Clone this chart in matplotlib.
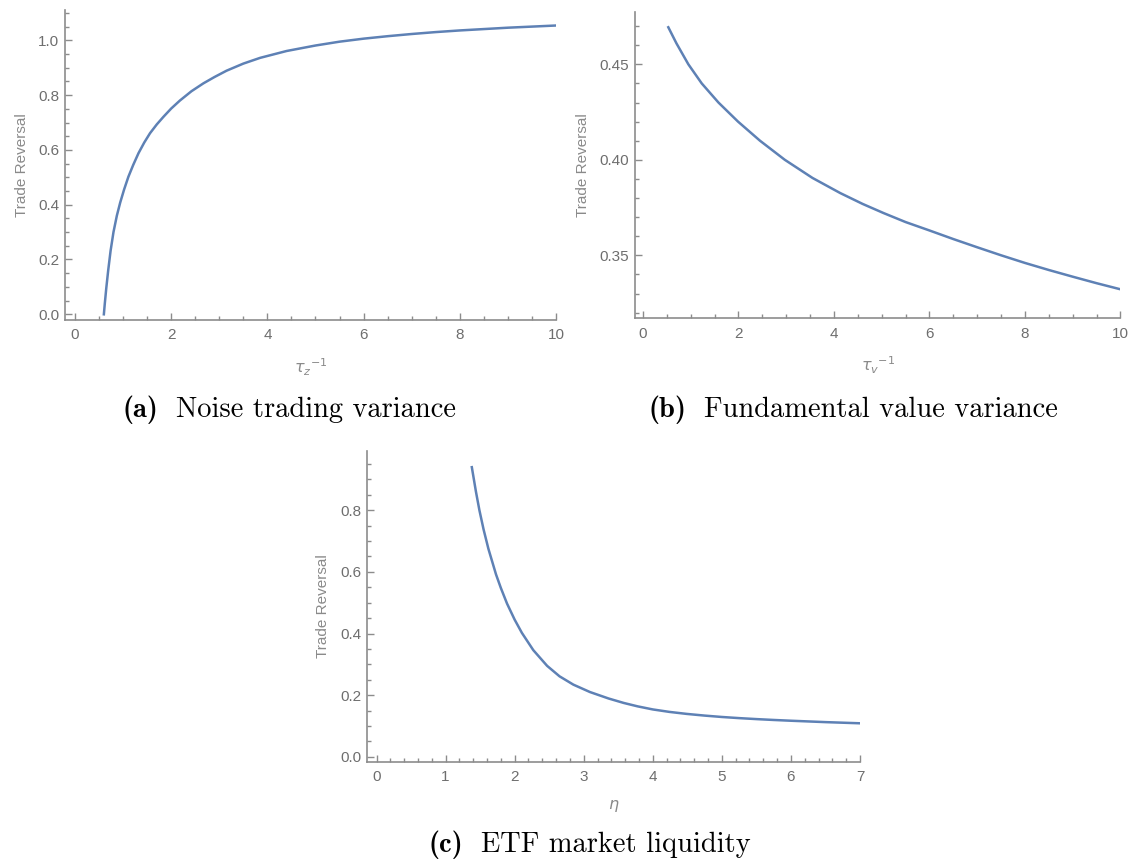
import matplotlib
matplotlib.use("Agg")
import matplotlib.pyplot as plt
from matplotlib.ticker import MultipleLocator, FormatStrFormatter

# (a) noise trading variance
noise_x = [0.60, 0.62, 0.65, 0.69, 0.74, 0.80, 0.87, 0.94, 1.02, 1.11, 1.21, 1.32,
           1.44, 1.56, 1.70, 1.84, 2.00, 2.18, 2.42, 2.67, 2.90, 3.15, 3.50, 3.85,
           4.40, 5.0, 5.5, 6.0, 6.5, 7.0, 7.5, 8.0, 8.5, 9.0, 9.5, 10.0]
noise_y = [0.0, 0.04, 0.095, 0.16, 0.232, 0.300, 0.360, 0.408, 0.455, 0.502, 0.545, 0.588,
           0.627, 0.661, 0.693, 0.721, 0.751, 0.780, 0.814, 0.843, 0.866, 0.889, 0.915, 0.936,
           0.961, 0.981, 0.995, 1.006, 1.015, 1.023, 1.030, 1.036, 1.041, 1.046, 1.050, 1.054]

# (b) fundamental value variance
fund_x = [0.53, 0.70, 0.95, 1.23, 1.58, 1.99, 2.45, 2.97, 3.55, 4.13, 4.60, 5.04,
          5.50, 6.0, 6.5, 7.0, 7.5, 8.0, 8.5, 9.0, 9.5, 10.0]
fund_y = [0.4694, 0.4610, 0.4500, 0.4400, 0.4300, 0.4200, 0.4100, 0.4000, 0.3905, 0.3826,
          0.3769, 0.3721, 0.3674, 0.3630, 0.3585, 0.3542, 0.3500, 0.3460, 0.3423, 0.3388,
          0.3354, 0.3322]

# (c) ETF market liquidity
liq_x = [1.38, 1.44, 1.49, 1.55, 1.62, 1.73, 1.80, 1.89, 2.00, 2.105, 2.27, 2.47,
         2.65, 2.85, 3.09, 3.36, 3.58, 3.78, 4.00, 4.24, 4.49, 4.75, 5.00, 5.25,
         5.51, 5.75, 6.00, 6.50, 7.00]
liq_y = [0.940, 0.860, 0.800, 0.738, 0.675, 0.592, 0.548, 0.497, 0.445, 0.402, 0.346, 0.295,
         0.261, 0.234, 0.210, 0.189, 0.1745, 0.1635, 0.1535, 0.1455, 0.1390, 0.1335, 0.1290, 0.1253,
         0.1220, 0.1193, 0.1168, 0.1123, 0.1085]

cap_tags = ["(a)", "(b)", "(c)"]
cap_texts = ["Noise trading variance", "Fundamental value variance", "ETF market liquidity"]

LINE = "#5E81B5"
AXC = "#8c8c8c"
TXT = "#6e6e6e"
W, H = 1129, 865

plt.rcParams["font.family"] = ["Liberation Sans", "DejaVu Sans"]

fig = plt.figure(figsize=(W / 100, H / 100), dpi=100)


def style_axes(ax, xlim, ylim, xmaj, xmin, ymaj, ymin, yfmt, xlabel):
    ax.set_xlim(*xlim)
    ax.set_ylim(*ylim)
    for s in ("top", "right"):
        ax.spines[s].set_visible(False)
    for s in ("left", "bottom"):
        ax.spines[s].set_color(AXC)
        ax.spines[s].set_linewidth(1.2)
    ax.xaxis.set_major_locator(MultipleLocator(xmaj))
    ax.xaxis.set_minor_locator(MultipleLocator(xmin))
    ax.yaxis.set_major_locator(MultipleLocator(ymaj))
    ax.yaxis.set_minor_locator(MultipleLocator(ymin))
    ax.xaxis.set_major_formatter(FormatStrFormatter("%d"))
    ax.yaxis.set_major_formatter(FormatStrFormatter(yfmt))
    ax.tick_params(which="both", direction="in", color=AXC, width=1.0,
                   labelcolor=TXT, labelsize=11)
    ax.tick_params(which="major", length=5)
    ax.tick_params(which="minor", length=3)
    ax.tick_params(axis="x", pad=6)
    ax.tick_params(axis="y", pad=4)
    ax.set_ylabel("Trade Reversal", color="#8a8a8a", fontsize=11, labelpad=7)
    ax.set_xlabel(xlabel, color="#8a8a8a", fontsize=11.5, labelpad=10,
                  math_fontfamily="dejavusans")


ax1 = fig.add_axes([0.05757, 0.63006, 0.4349, 0.35838])
ax1.plot(noise_x, noise_y, color=LINE, lw=1.8)
style_axes(ax1, (-0.208, 10), (-0.0208, 1.1106), 2, 0.5, 0.2, 0.05, "%.1f",
           r"${\tau_z}^{-1}$")

ax2 = fig.add_axes([0.56244, 0.63202, 0.43003, 0.35445])
ax2.plot(fund_x, fund_y, color=LINE, lw=1.8)
style_axes(ax2, (-0.1675, 10), (0.31702, 0.47754), 2, 0.5, 0.05, 0.01, "%.2f",
           r"${\tau_v}^{-1}$")

ax3 = fig.add_axes([0.3248, 0.11942, 0.43693, 0.35919])
ax3.plot(liq_x, liq_y, color=LINE, lw=1.8)
style_axes(ax3, (-0.142, 7), (-0.0162, 0.9925), 1, 0.2, 0.2, 0.05, "%.1f",
           r"$\eta$")

# captions: bold tag + roman text, centred as one line
renderer = fig.canvas.get_renderer()
FS = 20.5
cap_pos = [(289, 417), (853, 417), (590, 852)]
for (xc, yb), tag, body in zip(cap_pos, cap_tags, cap_texts):
    t1 = fig.text(0, 1 - yb / H, tag, fontfamily="cmb10", fontsize=FS, va="baseline")
    t2 = fig.text(0, 1 - yb / H, body, fontfamily="cmr10", fontsize=FS, va="baseline")
    w1 = t1.get_window_extent(renderer).width / W
    w2 = t2.get_window_extent(renderer).width / W
    gap = 0.62 * FS / 72 * 100 / W
    x0 = xc / W - (w1 + gap + w2) / 2
    t1.set_x(x0)
    t2.set_x(x0 + w1 + gap)

fig.savefig("out.png", dpi=100)
